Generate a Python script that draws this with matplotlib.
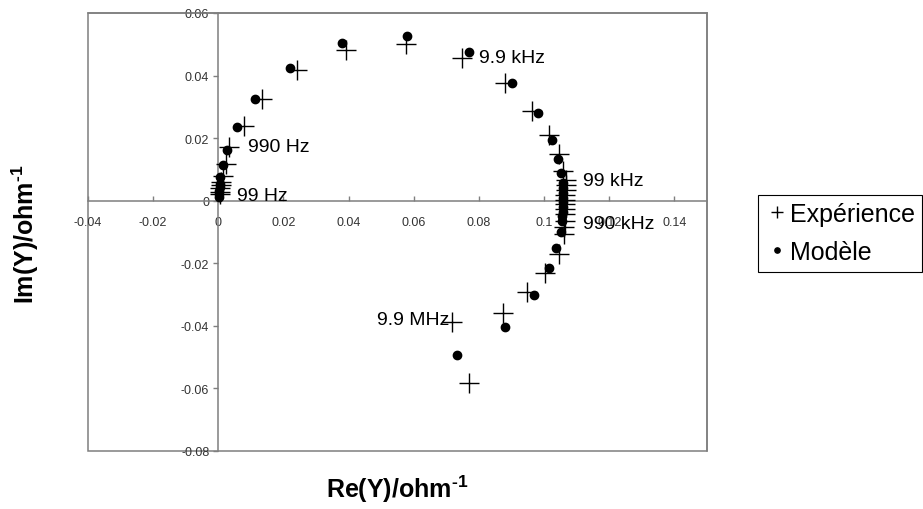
import matplotlib

matplotlib.use("Agg")
import matplotlib.pyplot as plt
from matplotlib.lines import Line2D
from matplotlib.patches import Rectangle

plt.rcParams["font.family"] = ["Liberation Sans", "DejaVu Sans"]
plt.rcParams["mathtext.fontset"] = "custom"
plt.rcParams["mathtext.rm"] = "Liberation Sans:bold"
plt.rcParams["mathtext.bf"] = "Liberation Sans:bold"

# admittance, experiment (crosses), low -> high frequency
exp_re = [0.0005, 0.0005, 0.0006, 0.0007, 0.0008, 0.0013, 0.0023, 0.0033,
          0.0079, 0.0134, 0.0243, 0.0393, 0.0577, 0.0747, 0.0881, 0.0962,
          0.1014, 0.1045, 0.1057, 0.1067, 0.1066, 0.1066, 0.1065, 0.1065,
          0.1064, 0.1064, 0.1063, 0.1063, 0.1062, 0.1062, 0.1045, 0.1004,
          0.0948, 0.0873, 0.0717, 0.0769]
exp_im = [0.0021, 0.0029, 0.0040, 0.0050, 0.0061, 0.0080, 0.0118, 0.0173,
          0.0240, 0.0325, 0.0418, 0.0483, 0.0501, 0.0457, 0.0375, 0.0288,
          0.0210, 0.0150, 0.0095, 0.0066, 0.0050, 0.0034, 0.0018, 0.0002,
          -0.0010, -0.0027, -0.0042, -0.0064, -0.0083, -0.0105, -0.0170,
          -0.0230, -0.0293, -0.0360, -0.0387, -0.0583]

# model (dots)
mod_re = [0.0002, 0.0002, 0.0003, 0.0004, 0.0005, 0.0006, 0.0013, 0.0027,
          0.0058, 0.0114, 0.0219, 0.0381, 0.0579, 0.0768, 0.0900, 0.0981,
          0.1023, 0.1043, 0.1053, 0.1057, 0.1058, 0.1058, 0.1058, 0.1058,
          0.1057, 0.1057, 0.1056, 0.1055, 0.1052, 0.1038, 0.1016, 0.0970,
          0.0880, 0.0732]
mod_im = [0.0013, 0.0022, 0.0032, 0.0043, 0.0055, 0.0077, 0.0114, 0.0162,
          0.0236, 0.0325, 0.0425, 0.0505, 0.0527, 0.0474, 0.0377, 0.0279,
          0.0194, 0.0132, 0.0088, 0.0056, 0.0040, 0.0025, 0.0010, -0.0005,
          -0.0020, -0.0035, -0.0050, -0.0065, -0.0101, -0.0150, -0.0216,
          -0.0301, -0.0403, -0.0493]

# frequency labels (text, re, im of the text's left/middle)
freq_labels = [("99 Hz", 0.0057, 0.0018),
               ("990 Hz", 0.0090, 0.0172),
               ("9.9 kHz", 0.0801, 0.0457),
               ("99 kHz", 0.1120, 0.0066),
               ("990 kHz", 0.1120, -0.0072),
               ("9.9 MHz", 0.0487, -0.0381)]

x_ticks = [-0.04, -0.02, 0, 0.02, 0.04, 0.06, 0.08, 0.1, 0.12, 0.14]
y_ticks = [-0.08, -0.06, -0.04, -0.02, 0, 0.02, 0.04, 0.06]

W, H = 923, 510
fig = plt.figure(figsize=(W / 100, H / 100), dpi=100)
ax = fig.add_axes([88 / W, 1 - 452 / H, (707 - 88) / W, (452 - 14) / H])

grey = "#7f7f7f"
ax.set_xlim(-0.04, 0.15)
ax.set_ylim(-0.08, 0.06)

for side in ("top", "right"):
    ax.spines[side].set_color(grey)
    ax.spines[side].set_linewidth(1.1)
for side in ("left", "bottom"):
    ax.spines[side].set_position(("data", 0))
    ax.spines[side].set_color(grey)
    ax.spines[side].set_linewidth(1.1)
ax.add_patch(Rectangle((0, 0), 1, 1, transform=ax.transAxes, fill=False,
                       edgecolor=grey, linewidth=1.1, clip_on=False, zorder=0))

ax.set_xticks(x_ticks)
ax.set_yticks(y_ticks)
ax.set_xticklabels([f"{v:g}" for v in x_ticks])
ax.set_yticklabels([f"{v:g}" for v in y_ticks])
ax.tick_params(axis="x", direction="in", length=3.5, width=1, color=grey,
               pad=11, labelsize=9, labelcolor="#333333")
ax.tick_params(axis="y", direction="out", length=3.5, width=1, color=grey,
               pad=3, labelsize=9, labelcolor="#333333")

ax.plot(exp_re, exp_im, ls="none", marker="+", ms=14, mew=1.0, color="black",
        clip_on=False, zorder=3)
ax.plot(mod_re, mod_im, ls="none", marker="o", ms=6, color="black",
        clip_on=False, zorder=4)

for txt, xv, yv in freq_labels:
    ax.text(xv, yv, txt, fontsize=14, ha="left", va="center", zorder=5)

fig.text(25 / W, 1 - 234 / H, r"Im(Y)/ohm$^{\text{-1}}$", rotation=90,
         ha="center", va="center", fontsize=18, fontweight="bold")
fig.text(397.5 / W, 1 - 489 / H, r"Re(Y)/ohm$^{\text{-1}}$",
         ha="center", va="center", fontsize=18, fontweight="bold")

handles = [
    Line2D([], [], ls="none", marker="+", ms=9, mew=1.0, color="black"),
    Line2D([], [], ls="none", marker="o", ms=3.8, color="black"),
]
leg = fig.legend(handles, ["Expérience", "Modèle"], loc="upper left",
                 bbox_to_anchor=(757.7 / W, 1 - 195.7 / H), borderaxespad=0,
                 fontsize=18, frameon=True, fancybox=False, framealpha=1,
                 edgecolor="black", borderpad=0.3, handlelength=0.92,
                 handletextpad=0.07, labelspacing=0.56)
leg.get_frame().set_linewidth(0.8)

fig.savefig("out.png", dpi=100)
